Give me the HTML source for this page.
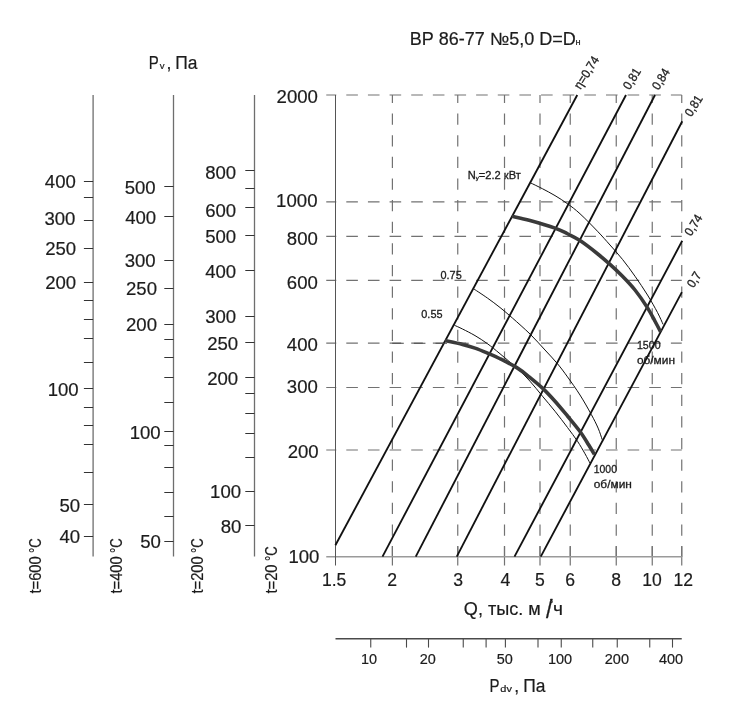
<!DOCTYPE html>
<html lang="ru"><head><meta charset="utf-8"><title>ВР 86-77 №5,0</title>
<style>
html,body{margin:0;padding:0;background:#fff;}
svg{display:block;font-family:'Liberation Sans', sans-serif;fill:#1c1c1c;}
</style></head><body>
<svg width="744" height="723" viewBox="0 0 744 723">
<rect width="744" height="723" fill="#fff"/>
<line x1="93.1" y1="95" x2="93.1" y2="556.5" stroke="#6e6e6e" stroke-width="1.3"/>
<line x1="83.89999999999999" y1="181.5" x2="93.1" y2="181.5" stroke="#333" stroke-width="1"/>
<text x="75.8" y="188.2" font-size="18.9" text-anchor="end" textLength="31.0" lengthAdjust="spacingAndGlyphs"  stroke="#1c1c1c" stroke-width="0.2">400</text>
<line x1="83.89999999999999" y1="220.5" x2="93.1" y2="220.5" stroke="#333" stroke-width="1"/>
<text x="75.4" y="225.2" font-size="18.9" text-anchor="end" textLength="31.0" lengthAdjust="spacingAndGlyphs"  stroke="#1c1c1c" stroke-width="0.2">300</text>
<line x1="83.89999999999999" y1="248.5" x2="93.1" y2="248.5" stroke="#333" stroke-width="1"/>
<text x="76.2" y="255.45" font-size="18.9" text-anchor="end" textLength="31.0" lengthAdjust="spacingAndGlyphs"  stroke="#1c1c1c" stroke-width="0.2">250</text>
<line x1="83.89999999999999" y1="282.5" x2="93.1" y2="282.5" stroke="#333" stroke-width="1"/>
<text x="76.2" y="289.45" font-size="18.9" text-anchor="end" textLength="31.0" lengthAdjust="spacingAndGlyphs"  stroke="#1c1c1c" stroke-width="0.2">200</text>
<line x1="83.89999999999999" y1="388.5" x2="93.1" y2="388.5" stroke="#333" stroke-width="1"/>
<text x="78.7" y="395.65" font-size="18.9" text-anchor="end" textLength="31.0" lengthAdjust="spacingAndGlyphs"  stroke="#1c1c1c" stroke-width="0.2">100</text>
<line x1="83.89999999999999" y1="504.5" x2="93.1" y2="504.5" stroke="#333" stroke-width="1"/>
<text x="80.1" y="511.6" font-size="18.9" text-anchor="end" textLength="20.7" lengthAdjust="spacingAndGlyphs"  stroke="#1c1c1c" stroke-width="0.2">50</text>
<line x1="83.89999999999999" y1="536.5" x2="93.1" y2="536.5" stroke="#333" stroke-width="1"/>
<text x="80.1" y="543.1" font-size="18.9" text-anchor="end" textLength="20.7" lengthAdjust="spacingAndGlyphs"  stroke="#1c1c1c" stroke-width="0.2">40</text>
<line x1="83.89999999999999" y1="197.5" x2="93.1" y2="197.5" stroke="#333" stroke-width="1"/>
<line x1="83.89999999999999" y1="300.5" x2="93.1" y2="300.5" stroke="#333" stroke-width="1"/>
<line x1="83.89999999999999" y1="319.5" x2="93.1" y2="319.5" stroke="#333" stroke-width="1"/>
<line x1="83.89999999999999" y1="338.5" x2="93.1" y2="338.5" stroke="#333" stroke-width="1"/>
<line x1="83.89999999999999" y1="362.5" x2="93.1" y2="362.5" stroke="#333" stroke-width="1"/>
<line x1="83.89999999999999" y1="407.5" x2="93.1" y2="407.5" stroke="#333" stroke-width="1"/>
<line x1="83.89999999999999" y1="425.5" x2="93.1" y2="425.5" stroke="#333" stroke-width="1"/>
<line x1="83.89999999999999" y1="444.5" x2="93.1" y2="444.5" stroke="#333" stroke-width="1"/>
<line x1="83.89999999999999" y1="472.5" x2="93.1" y2="472.5" stroke="#333" stroke-width="1"/>
<line x1="173.5" y1="95" x2="173.5" y2="556.5" stroke="#6e6e6e" stroke-width="1.3"/>
<line x1="164.3" y1="186.5" x2="173.5" y2="186.5" stroke="#333" stroke-width="1"/>
<text x="155.7" y="193.7" font-size="18.9" text-anchor="end" textLength="31.0" lengthAdjust="spacingAndGlyphs"  stroke="#1c1c1c" stroke-width="0.2">500</text>
<line x1="164.3" y1="216.5" x2="173.5" y2="216.5" stroke="#333" stroke-width="1"/>
<text x="156.2" y="223.6" font-size="18.9" text-anchor="end" textLength="31.0" lengthAdjust="spacingAndGlyphs"  stroke="#1c1c1c" stroke-width="0.2">400</text>
<line x1="164.3" y1="260.5" x2="173.5" y2="260.5" stroke="#333" stroke-width="1"/>
<text x="155.7" y="266.6" font-size="18.9" text-anchor="end" textLength="31.0" lengthAdjust="spacingAndGlyphs"  stroke="#1c1c1c" stroke-width="0.2">300</text>
<line x1="164.3" y1="288.5" x2="173.5" y2="288.5" stroke="#333" stroke-width="1"/>
<text x="157.0" y="295.25" font-size="18.9" text-anchor="end" textLength="31.0" lengthAdjust="spacingAndGlyphs"  stroke="#1c1c1c" stroke-width="0.2">250</text>
<line x1="164.3" y1="324.5" x2="173.5" y2="324.5" stroke="#333" stroke-width="1"/>
<text x="157.0" y="331.4" font-size="18.9" text-anchor="end" textLength="31.0" lengthAdjust="spacingAndGlyphs"  stroke="#1c1c1c" stroke-width="0.2">200</text>
<line x1="164.3" y1="431.5" x2="173.5" y2="431.5" stroke="#333" stroke-width="1"/>
<text x="160.7" y="438.5" font-size="18.9" text-anchor="end" textLength="31.0" lengthAdjust="spacingAndGlyphs"  stroke="#1c1c1c" stroke-width="0.2">100</text>
<line x1="164.3" y1="541.5" x2="173.5" y2="541.5" stroke="#333" stroke-width="1"/>
<text x="160.9" y="547.6" font-size="18.9" text-anchor="end" textLength="20.7" lengthAdjust="spacingAndGlyphs"  stroke="#1c1c1c" stroke-width="0.2">50</text>
<line x1="164.3" y1="339.5" x2="173.5" y2="339.5" stroke="#333" stroke-width="1"/>
<line x1="164.3" y1="357.5" x2="173.5" y2="357.5" stroke="#333" stroke-width="1"/>
<line x1="164.3" y1="377.5" x2="173.5" y2="377.5" stroke="#333" stroke-width="1"/>
<line x1="164.3" y1="402.5" x2="173.5" y2="402.5" stroke="#333" stroke-width="1"/>
<line x1="164.3" y1="445.5" x2="173.5" y2="445.5" stroke="#333" stroke-width="1"/>
<line x1="164.3" y1="467.5" x2="173.5" y2="467.5" stroke="#333" stroke-width="1"/>
<line x1="164.3" y1="492.5" x2="173.5" y2="492.5" stroke="#333" stroke-width="1"/>
<line x1="164.3" y1="516.5" x2="173.5" y2="516.5" stroke="#333" stroke-width="1"/>
<line x1="254.5" y1="95" x2="254.5" y2="556.5" stroke="#6e6e6e" stroke-width="1.3"/>
<line x1="245.3" y1="170.5" x2="254.5" y2="170.5" stroke="#333" stroke-width="1"/>
<text x="236.2" y="179.4" font-size="18.9" text-anchor="end" textLength="31.0" lengthAdjust="spacingAndGlyphs"  stroke="#1c1c1c" stroke-width="0.2">800</text>
<line x1="245.3" y1="207.5" x2="254.5" y2="207.5" stroke="#333" stroke-width="1"/>
<text x="236.2" y="216.5" font-size="18.9" text-anchor="end" textLength="31.0" lengthAdjust="spacingAndGlyphs"  stroke="#1c1c1c" stroke-width="0.2">600</text>
<line x1="245.3" y1="235.5" x2="254.5" y2="235.5" stroke="#333" stroke-width="1"/>
<text x="236.2" y="242.8" font-size="18.9" text-anchor="end" textLength="31.0" lengthAdjust="spacingAndGlyphs"  stroke="#1c1c1c" stroke-width="0.2">500</text>
<line x1="245.3" y1="270.5" x2="254.5" y2="270.5" stroke="#333" stroke-width="1"/>
<text x="236.2" y="278.3" font-size="18.9" text-anchor="end" textLength="31.0" lengthAdjust="spacingAndGlyphs"  stroke="#1c1c1c" stroke-width="0.2">400</text>
<line x1="245.3" y1="316.5" x2="254.5" y2="316.5" stroke="#333" stroke-width="1"/>
<text x="236.2" y="322.6" font-size="18.9" text-anchor="end" textLength="31.0" lengthAdjust="spacingAndGlyphs"  stroke="#1c1c1c" stroke-width="0.2">300</text>
<line x1="245.3" y1="342.5" x2="254.5" y2="342.5" stroke="#333" stroke-width="1"/>
<text x="238.2" y="349.8" font-size="18.9" text-anchor="end" textLength="31.0" lengthAdjust="spacingAndGlyphs"  stroke="#1c1c1c" stroke-width="0.2">250</text>
<line x1="245.3" y1="377.5" x2="254.5" y2="377.5" stroke="#333" stroke-width="1"/>
<text x="238.2" y="385.1" font-size="18.9" text-anchor="end" textLength="31.0" lengthAdjust="spacingAndGlyphs"  stroke="#1c1c1c" stroke-width="0.2">200</text>
<line x1="245.3" y1="491.5" x2="254.5" y2="491.5" stroke="#333" stroke-width="1"/>
<text x="241.1" y="498.1" font-size="18.9" text-anchor="end" textLength="31.0" lengthAdjust="spacingAndGlyphs"  stroke="#1c1c1c" stroke-width="0.2">100</text>
<line x1="245.3" y1="525.5" x2="254.5" y2="525.5" stroke="#333" stroke-width="1"/>
<text x="241.4" y="532.9" font-size="18.9" text-anchor="end" textLength="20.7" lengthAdjust="spacingAndGlyphs"  stroke="#1c1c1c" stroke-width="0.2">80</text>
<line x1="245.3" y1="188.5" x2="254.5" y2="188.5" stroke="#333" stroke-width="1"/>
<line x1="245.3" y1="393.5" x2="254.5" y2="393.5" stroke="#333" stroke-width="1"/>
<line x1="245.3" y1="413.5" x2="254.5" y2="413.5" stroke="#333" stroke-width="1"/>
<line x1="245.3" y1="433.5" x2="254.5" y2="433.5" stroke="#333" stroke-width="1"/>
<line x1="245.3" y1="457.5" x2="254.5" y2="457.5" stroke="#333" stroke-width="1"/>
<text x="317.95" y="103.0" font-size="18.9" text-anchor="end" textLength="41.4" lengthAdjust="spacingAndGlyphs"  stroke="#1c1c1c" stroke-width="0.2">2000</text>
<text x="317.5" y="206.5" font-size="18.9" text-anchor="end" textLength="41.4" lengthAdjust="spacingAndGlyphs"  stroke="#1c1c1c" stroke-width="0.2">1000</text>
<text x="317.8" y="244.8" font-size="18.9" text-anchor="end" textLength="31.0" lengthAdjust="spacingAndGlyphs"  stroke="#1c1c1c" stroke-width="0.2">800</text>
<text x="317.8" y="289.2" font-size="18.9" text-anchor="end" textLength="31.0" lengthAdjust="spacingAndGlyphs"  stroke="#1c1c1c" stroke-width="0.2">600</text>
<text x="317.8" y="350.5" font-size="18.9" text-anchor="end" textLength="31.0" lengthAdjust="spacingAndGlyphs"  stroke="#1c1c1c" stroke-width="0.2">400</text>
<text x="317.8" y="392.6" font-size="18.9" text-anchor="end" textLength="31.0" lengthAdjust="spacingAndGlyphs"  stroke="#1c1c1c" stroke-width="0.2">300</text>
<text x="318.7" y="457.6" font-size="18.9" text-anchor="end" textLength="31.0" lengthAdjust="spacingAndGlyphs"  stroke="#1c1c1c" stroke-width="0.2">200</text>
<text x="319.45" y="563.2" font-size="18.9" text-anchor="end" textLength="31.0" lengthAdjust="spacingAndGlyphs"  stroke="#1c1c1c" stroke-width="0.2">100</text>
<line x1="326.25" y1="95.0" x2="681.75" y2="95.0" stroke="#727272" stroke-width="1.2" stroke-dasharray="11.6 10.04" stroke-dashoffset="1.6"/>
<line x1="326.25" y1="201.9" x2="681.75" y2="201.9" stroke="#727272" stroke-width="1.2" stroke-dasharray="11.6 10.04" stroke-dashoffset="1.6"/>
<line x1="326.25" y1="236.4" x2="681.75" y2="236.4" stroke="#727272" stroke-width="1.2" stroke-dasharray="11.6 10.04" stroke-dashoffset="1.6"/>
<line x1="326.25" y1="280.4" x2="681.75" y2="280.4" stroke="#727272" stroke-width="1.2" stroke-dasharray="11.6 10.04" stroke-dashoffset="1.6"/>
<line x1="326.25" y1="343.1" x2="681.75" y2="343.1" stroke="#727272" stroke-width="1.2" stroke-dasharray="11.6 10.04" stroke-dashoffset="1.6"/>
<line x1="326.25" y1="387.5" x2="681.75" y2="387.5" stroke="#727272" stroke-width="1.2" stroke-dasharray="11.6 10.04" stroke-dashoffset="1.6"/>
<line x1="326.25" y1="450" x2="681.75" y2="450" stroke="#727272" stroke-width="1.2" stroke-dasharray="11.6 10.04" stroke-dashoffset="1.6"/>
<line x1="392.4" y1="95" x2="392.4" y2="557" stroke="#727272" stroke-width="1.2" stroke-dasharray="11.25 10.38" stroke-dashoffset="3.13"/>
<line x1="392.4" y1="546.3" x2="392.4" y2="565.5" stroke="#727272" stroke-width="1.2"/>
<line x1="457.75" y1="95" x2="457.75" y2="557" stroke="#727272" stroke-width="1.2" stroke-dasharray="11.25 10.38" stroke-dashoffset="3.13"/>
<line x1="457.75" y1="546.3" x2="457.75" y2="565.5" stroke="#727272" stroke-width="1.2"/>
<line x1="504.5" y1="95" x2="504.5" y2="557" stroke="#727272" stroke-width="1.2" stroke-dasharray="11.25 10.38" stroke-dashoffset="3.13"/>
<line x1="504.5" y1="546.3" x2="504.5" y2="565.5" stroke="#727272" stroke-width="1.2"/>
<line x1="540" y1="95" x2="540" y2="557" stroke="#727272" stroke-width="1.2" stroke-dasharray="11.25 10.38" stroke-dashoffset="3.13"/>
<line x1="540" y1="546.3" x2="540" y2="565.5" stroke="#727272" stroke-width="1.2"/>
<line x1="570.25" y1="95" x2="570.25" y2="557" stroke="#727272" stroke-width="1.2" stroke-dasharray="11.25 10.38" stroke-dashoffset="3.13"/>
<line x1="570.25" y1="546.3" x2="570.25" y2="565.5" stroke="#727272" stroke-width="1.2"/>
<line x1="616.25" y1="95" x2="616.25" y2="557" stroke="#727272" stroke-width="1.2" stroke-dasharray="11.25 10.38" stroke-dashoffset="3.13"/>
<line x1="616.25" y1="546.3" x2="616.25" y2="565.5" stroke="#727272" stroke-width="1.2"/>
<line x1="652.25" y1="95" x2="652.25" y2="557" stroke="#727272" stroke-width="1.2" stroke-dasharray="11.25 10.38" stroke-dashoffset="3.13"/>
<line x1="652.25" y1="546.3" x2="652.25" y2="565.5" stroke="#727272" stroke-width="1.2"/>
<line x1="681.75" y1="95" x2="681.75" y2="557" stroke="#727272" stroke-width="1.2" stroke-dasharray="11.25 10.38" stroke-dashoffset="3.13"/>
<line x1="681.75" y1="546.3" x2="681.75" y2="565.5" stroke="#727272" stroke-width="1.2"/>
<line x1="326.25" y1="556.7" x2="681.75" y2="556.7" stroke="#9a9a9a" stroke-width="1.6"/>
<line x1="335.5" y1="95" x2="335.5" y2="565.5" stroke="#555" stroke-width="1"/>
<text x="334.1" y="585.5" font-size="17.5" text-anchor="middle" textLength="24.4" lengthAdjust="spacingAndGlyphs"  stroke="#1c1c1c" stroke-width="0.2">1.5</text>
<text x="392.2" y="585.5" font-size="17.5" text-anchor="middle" textLength="9.8" lengthAdjust="spacingAndGlyphs"  stroke="#1c1c1c" stroke-width="0.2">2</text>
<text x="458.1" y="585.5" font-size="17.5" text-anchor="middle" textLength="9.8" lengthAdjust="spacingAndGlyphs"  stroke="#1c1c1c" stroke-width="0.2">3</text>
<text x="505.3" y="585.5" font-size="17.5" text-anchor="middle" textLength="9.8" lengthAdjust="spacingAndGlyphs"  stroke="#1c1c1c" stroke-width="0.2">4</text>
<text x="540" y="585.5" font-size="17.5" text-anchor="middle" textLength="9.8" lengthAdjust="spacingAndGlyphs"  stroke="#1c1c1c" stroke-width="0.2">5</text>
<text x="570.2" y="585.5" font-size="17.5" text-anchor="middle" textLength="9.8" lengthAdjust="spacingAndGlyphs"  stroke="#1c1c1c" stroke-width="0.2">6</text>
<text x="616.2" y="585.5" font-size="17.5" text-anchor="middle" textLength="9.8" lengthAdjust="spacingAndGlyphs"  stroke="#1c1c1c" stroke-width="0.2">8</text>
<text x="652" y="585.5" font-size="17.5" text-anchor="middle" textLength="19.5" lengthAdjust="spacingAndGlyphs"  stroke="#1c1c1c" stroke-width="0.2">10</text>
<text x="683.3" y="585.5" font-size="17.5" text-anchor="middle" textLength="19.5" lengthAdjust="spacingAndGlyphs"  stroke="#1c1c1c" stroke-width="0.2">12</text>
<line x1="335.4" y1="545.25" x2="577.25" y2="95" stroke="#111" stroke-width="1.85"/>
<line x1="382.5" y1="556.6" x2="626" y2="95" stroke="#111" stroke-width="1.85"/>
<line x1="415.75" y1="556.6" x2="655" y2="95" stroke="#111" stroke-width="1.85"/>
<line x1="456.75" y1="556.6" x2="682.25" y2="121.25" stroke="#111" stroke-width="1.85"/>
<line x1="514.5" y1="556.6" x2="682.25" y2="240.75" stroke="#111" stroke-width="1.85"/>
<line x1="540.75" y1="556.6" x2="681.9" y2="292.1" stroke="#111" stroke-width="1.85"/>
<path d="M530.6,182.9 C532.58,183.88 538.43,186.63 542.5,188.75 C546.57,190.87 550.83,193.10 555,195.6 C559.17,198.10 563.33,200.72 567.5,203.75 C571.67,206.78 575.00,209.17 580,213.75 C585.00,218.33 592.50,226.04 597.5,231.25 C602.50,236.46 605.83,240.31 610,245 C614.17,249.69 618.33,254.19 622.5,259.4 C626.67,264.61 630.83,270.32 635,276.25 C639.17,282.18 643.75,288.96 647.5,295 C651.25,301.04 654.90,307.60 657.5,312.5 C660.10,317.40 662.17,322.42 663.1,324.4" fill="none" stroke="#111" stroke-width="1" stroke-linecap="butt"/>
<path d="M454.4,325.25 C455.75,325.88 459.07,327.27 462.5,329 C465.93,330.73 470.83,333.14 475,335.6 C479.17,338.06 483.33,340.73 487.5,343.75 C491.67,346.77 495.00,349.58 500,353.75 C505.00,357.92 512.50,364.17 517.5,368.75 C522.50,373.33 525.83,376.67 530,381.25 C534.17,385.83 538.33,391.25 542.5,396.25 C546.67,401.25 550.83,406.04 555,411.25 C559.17,416.46 563.75,422.50 567.5,427.5 C571.25,432.50 574.58,436.88 577.5,441.25 C580.42,445.62 582.92,450.11 585,453.75 C587.08,457.39 589.17,461.54 590,463.1" fill="none" stroke="#111" stroke-width="1" stroke-linecap="butt"/>
<path d="M474.1,289.1 C476.33,290.60 483.18,295.03 487.5,298.1 C491.82,301.17 495.83,304.17 500,307.5 C504.17,310.83 507.50,313.68 512.5,318.1 C517.50,322.52 524.58,328.68 530,334 C535.42,339.32 540.42,345.04 545,350 C549.58,354.96 553.75,359.27 557.5,363.75 C561.25,368.23 563.75,371.69 567.5,376.9 C571.25,382.11 576.04,388.75 580,395 C583.96,401.25 588.23,408.88 591.25,414.4 C594.27,419.92 596.27,423.88 598.1,428.1 C599.93,432.33 601.56,437.81 602.25,439.75" fill="none" stroke="#111" stroke-width="1" stroke-linecap="butt"/>
<path d="M511.9,216.25 C514.92,216.97 522.82,218.62 530,220.6 C537.18,222.57 548.75,225.91 555,228.1 C561.25,230.29 563.33,231.67 567.5,233.75 C571.67,235.83 575.00,237.27 580,240.6 C585.00,243.93 592.50,249.78 597.5,253.75 C602.50,257.72 605.83,260.65 610,264.4 C614.17,268.15 618.33,271.98 622.5,276.25 C626.67,280.52 630.93,284.89 635,290 C639.07,295.11 643.57,301.69 646.9,306.9 C650.23,312.11 652.72,317.08 655,321.25 C657.28,325.42 659.67,330.12 660.6,331.9" fill="none" stroke="#3a3a3a" stroke-width="3.6" stroke-linecap="butt"/>
<path d="M445,340.6 C447.92,341.23 457.50,343.15 462.5,344.4 C467.50,345.65 470.83,346.65 475,348.1 C479.17,349.55 483.33,351.33 487.5,353.1 C491.67,354.88 495.00,356.25 500,358.75 C505.00,361.25 512.50,364.98 517.5,368.1 C522.50,371.23 525.83,374.17 530,377.5 C534.17,380.83 538.33,384.15 542.5,388.1 C546.67,392.05 550.83,396.55 555,401.2 C559.17,405.85 563.33,410.95 567.5,416 C571.67,421.05 576.46,426.67 580,431.5 C583.54,436.33 586.35,441.18 588.75,445 C591.15,448.82 593.46,452.83 594.4,454.4" fill="none" stroke="#3a3a3a" stroke-width="3.6" stroke-linecap="butt"/>
<line x1="392.2" y1="343.2" x2="468.8" y2="343.2" stroke="#4a4a4a" stroke-width="1.1" stroke-dasharray="11.6 10.04"/>
<text x="467.8" y="178.7" font-size="10.9" text-anchor="start" textLength="53" lengthAdjust="spacingAndGlyphs" stroke="#1c1c1c" stroke-width="0.3">N<tspan font-size="6" dy="1.5">у</tspan><tspan dy="-1.5">=2.2 кВт</tspan></text>
<text x="440.5" y="278.7" font-size="10.9" text-anchor="start" textLength="21.2" lengthAdjust="spacingAndGlyphs" stroke="#1c1c1c" stroke-width="0.3">0.75</text>
<text x="421.3" y="317.8" font-size="10.9" text-anchor="start" textLength="21.2" lengthAdjust="spacingAndGlyphs" stroke="#1c1c1c" stroke-width="0.3">0.55</text>
<text x="636.9" y="348.75" font-size="10.9" text-anchor="start" textLength="23.7" lengthAdjust="spacingAndGlyphs" stroke="#1c1c1c" stroke-width="0.3">1500</text>
<text x="636.9" y="364.4" font-size="10.9" text-anchor="start" textLength="38.1" lengthAdjust="spacingAndGlyphs" stroke="#1c1c1c" stroke-width="0.3">об/мин</text>
<text x="593.75" y="472.5" font-size="10.9" text-anchor="start" textLength="23.2" lengthAdjust="spacingAndGlyphs" stroke="#1c1c1c" stroke-width="0.3">1000</text>
<text x="593.75" y="487.5" font-size="10.9" text-anchor="start" textLength="38.1" lengthAdjust="spacingAndGlyphs" stroke="#1c1c1c" stroke-width="0.3">об/мин</text>
<text x="0" y="0" font-size="12.5" text-anchor="start" textLength="36" lengthAdjust="spacingAndGlyphs" transform="translate(580.6 90.0) rotate(-58)" stroke="#1c1c1c" stroke-width="0.3">η=0,74</text>
<text x="0" y="0" font-size="12.5" text-anchor="start" textLength="22.5" lengthAdjust="spacingAndGlyphs" transform="translate(629.6 90.4) rotate(-58)" stroke="#1c1c1c" stroke-width="0.3">0,81</text>
<text x="0" y="0" font-size="12.5" text-anchor="start" textLength="22.5" lengthAdjust="spacingAndGlyphs" transform="translate(658.5 90.8) rotate(-58)" stroke="#1c1c1c" stroke-width="0.3">0,84</text>
<text x="0" y="0" font-size="12.5" text-anchor="start" textLength="22.5" lengthAdjust="spacingAndGlyphs" transform="translate(691.2 117.5) rotate(-58)" stroke="#1c1c1c" stroke-width="0.3">0,81</text>
<text x="0" y="0" font-size="12.5" text-anchor="start" textLength="22.5" lengthAdjust="spacingAndGlyphs" transform="translate(691.1 236.8) rotate(-58)" stroke="#1c1c1c" stroke-width="0.3">0,74</text>
<text x="0" y="0" font-size="12.5" text-anchor="start" textLength="16" lengthAdjust="spacingAndGlyphs" transform="translate(693.4 288.6) rotate(-58)" stroke="#1c1c1c" stroke-width="0.3">0,7</text>
<text x="0" y="0" font-size="15.8" text-anchor="start" textLength="37.4" lengthAdjust="spacingAndGlyphs" transform="translate(41.2 593.6) rotate(-90)" stroke="#1c1c1c" stroke-width="0.2">t=600</text>
<text x="0" y="0" font-size="15.8" text-anchor="start" textLength="14.6" lengthAdjust="spacingAndGlyphs" transform="translate(41.2 552.9) rotate(-90)" stroke="#1c1c1c" stroke-width="0.2">°C</text>
<text x="0" y="0" font-size="15.8" text-anchor="start" textLength="37.4" lengthAdjust="spacingAndGlyphs" transform="translate(121.7 593.6) rotate(-90)" stroke="#1c1c1c" stroke-width="0.2">t=400</text>
<text x="0" y="0" font-size="15.8" text-anchor="start" textLength="14.6" lengthAdjust="spacingAndGlyphs" transform="translate(121.7 552.9) rotate(-90)" stroke="#1c1c1c" stroke-width="0.2">°C</text>
<text x="0" y="0" font-size="15.8" text-anchor="start" textLength="37.4" lengthAdjust="spacingAndGlyphs" transform="translate(202.8 593.6) rotate(-90)" stroke="#1c1c1c" stroke-width="0.2">t=200</text>
<text x="0" y="0" font-size="15.8" text-anchor="start" textLength="14.6" lengthAdjust="spacingAndGlyphs" transform="translate(202.8 552.9) rotate(-90)" stroke="#1c1c1c" stroke-width="0.2">°C</text>
<text x="0" y="0" font-size="15.8" text-anchor="start" textLength="29.2" lengthAdjust="spacingAndGlyphs" transform="translate(277 593.6) rotate(-90)" stroke="#1c1c1c" stroke-width="0.2">t=20</text>
<text x="0" y="0" font-size="15.8" text-anchor="start" textLength="14.6" lengthAdjust="spacingAndGlyphs" transform="translate(277 560.9) rotate(-90)" stroke="#1c1c1c" stroke-width="0.2">°C</text>
<text x="409.8" y="44.9" font-size="17.5" text-anchor="start" textLength="166" lengthAdjust="spacingAndGlyphs"  stroke="#1c1c1c" stroke-width="0.2">ВР 86-77 №5,0 D=D</text>
<text x="575.4" y="44.9" font-size="9.2" text-anchor="start"  stroke="#1c1c1c" stroke-width="0.2">н</text>
<text x="148.8" y="69.3" font-size="17.6" text-anchor="start" textLength="10" lengthAdjust="spacingAndGlyphs"  stroke="#1c1c1c" stroke-width="0.2">P</text>
<text x="159.8" y="69.3" font-size="9.6" text-anchor="start"  stroke="#1c1c1c" stroke-width="0.2">v</text>
<text x="166.6" y="69.3" font-size="17.6" text-anchor="start"  stroke="#1c1c1c" stroke-width="0.2">,</text>
<text x="175.3" y="69.3" font-size="17.6" text-anchor="start" textLength="22.2" lengthAdjust="spacingAndGlyphs"  stroke="#1c1c1c" stroke-width="0.2">Па</text>
<text x="463.8" y="615" font-size="17.6" text-anchor="start" textLength="77" lengthAdjust="spacingAndGlyphs"  stroke="#1c1c1c" stroke-width="0.2">Q, тыс. м</text>
<text x="549.8" y="602.6" font-size="5.5" text-anchor="start"  stroke="#1c1c1c" stroke-width="0.2">3</text>
<text x="0" y="0" font-size="17.6" text-anchor="start" transform="translate(545.9 617.6) scale(1.3 1.5)" stroke="#1c1c1c" stroke-width="0.2">/</text>
<text x="553" y="615" font-size="17.6" text-anchor="start" textLength="10" lengthAdjust="spacingAndGlyphs"  stroke="#1c1c1c" stroke-width="0.2">ч</text>
<text x="489.6" y="691.8" font-size="17.6" text-anchor="start" textLength="10" lengthAdjust="spacingAndGlyphs"  stroke="#1c1c1c" stroke-width="0.2">P</text>
<text x="500.3" y="691.8" font-size="9.6" text-anchor="start" textLength="11.6" lengthAdjust="spacingAndGlyphs"  stroke="#1c1c1c" stroke-width="0.2">dv</text>
<text x="514.2" y="691.8" font-size="17.6" text-anchor="start"  stroke="#1c1c1c" stroke-width="0.2">,</text>
<text x="523.3" y="691.8" font-size="17.6" text-anchor="start" textLength="22.2" lengthAdjust="spacingAndGlyphs"  stroke="#1c1c1c" stroke-width="0.2">Па</text>
<line x1="335.5" y1="638.75" x2="681.75" y2="638.75" stroke="#4a4a4a" stroke-width="1.4"/>
<line x1="370.75" y1="638.75" x2="370.75" y2="647.6" stroke="#4a4a4a" stroke-width="1.1"/>
<line x1="406.5" y1="638.75" x2="406.5" y2="647.6" stroke="#4a4a4a" stroke-width="1.1"/>
<line x1="428.5" y1="638.75" x2="428.5" y2="647.6" stroke="#4a4a4a" stroke-width="1.1"/>
<line x1="463.25" y1="638.75" x2="463.25" y2="647.6" stroke="#4a4a4a" stroke-width="1.1"/>
<line x1="486.1" y1="638.75" x2="486.1" y2="647.6" stroke="#4a4a4a" stroke-width="1.1"/>
<line x1="505.4" y1="638.75" x2="505.4" y2="647.6" stroke="#4a4a4a" stroke-width="1.1"/>
<line x1="538" y1="638.75" x2="538" y2="647.6" stroke="#4a4a4a" stroke-width="1.1"/>
<line x1="561.25" y1="638.75" x2="561.25" y2="647.6" stroke="#4a4a4a" stroke-width="1.1"/>
<line x1="592.75" y1="638.75" x2="592.75" y2="647.6" stroke="#4a4a4a" stroke-width="1.1"/>
<line x1="617.25" y1="638.75" x2="617.25" y2="647.6" stroke="#4a4a4a" stroke-width="1.1"/>
<line x1="649.75" y1="638.75" x2="649.75" y2="647.6" stroke="#4a4a4a" stroke-width="1.1"/>
<line x1="672.5" y1="638.75" x2="672.5" y2="647.6" stroke="#4a4a4a" stroke-width="1.1"/>
<text x="369.0" y="663.8" font-size="14.3" text-anchor="middle" textLength="16.1" lengthAdjust="spacingAndGlyphs"  stroke="#1c1c1c" stroke-width="0.2">10</text>
<text x="427.7" y="663.8" font-size="14.3" text-anchor="middle" textLength="16.1" lengthAdjust="spacingAndGlyphs"  stroke="#1c1c1c" stroke-width="0.2">20</text>
<text x="504.8" y="663.8" font-size="14.3" text-anchor="middle" textLength="16.1" lengthAdjust="spacingAndGlyphs"  stroke="#1c1c1c" stroke-width="0.2">50</text>
<text x="560.0" y="663.8" font-size="14.3" text-anchor="middle" textLength="24.2" lengthAdjust="spacingAndGlyphs"  stroke="#1c1c1c" stroke-width="0.2">100</text>
<text x="616.9" y="663.8" font-size="14.3" text-anchor="middle" textLength="24.2" lengthAdjust="spacingAndGlyphs"  stroke="#1c1c1c" stroke-width="0.2">200</text>
<text x="671" y="663.8" font-size="14.3" text-anchor="middle" textLength="24.2" lengthAdjust="spacingAndGlyphs"  stroke="#1c1c1c" stroke-width="0.2">400</text>
</svg>
</body></html>
